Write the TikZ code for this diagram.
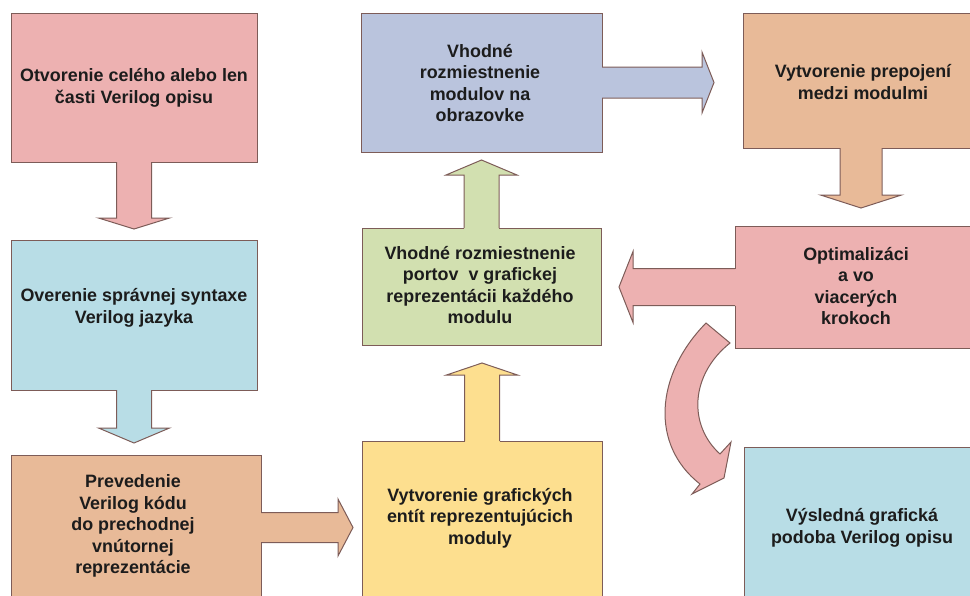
\documentclass[tikz,border=0pt]{standalone}
\usepackage{fontspec}
\setmainfont{Liberation Sans}
\definecolor{pinkc}{HTML}{EDB1B1}
\definecolor{bluec}{HTML}{B8DDE6}
\definecolor{tanc}{HTML}{E8BA98}
\definecolor{yellowc}{HTML}{FDDF8F}
\definecolor{greenc}{HTML}{D2E0B0}
\definecolor{lavc}{HTML}{BAC4DD}
\definecolor{edgec}{HTML}{7D5C58}
\definecolor{textc}{HTML}{1C1C1C}
\tikzset{
  edgeline/.style={draw=edgec, line width=1pt, line join=miter},
  boxnode/.style={rectangle, edgeline, inner sep=0pt, outer sep=0pt},
  txt/.style={font=\bfseries\fontsize{17.9}{21.5}\selectfont, align=center, text=textc, inner sep=0pt},
  pics/barrow/.style n args={5}{code={
    \fill[#5] (-2,-#2) rectangle (#1,#2);
    \fill[#5] (#1,-#3) -- ({#1+#4},0) -- (#1,#3) -- cycle;
    \draw[edgeline] (0,-#2) -- (#1,-#2) -- (#1,-#3) -- ({#1+#4},0) -- (#1,#3) -- (#1,#2) -- (0,#2);
  }}
}
\begin{document}
\begin{tikzpicture}[x=1pt, y=-1pt]
\useasboundingbox (0,0) rectangle (970,595);
\clip (0,0) rectangle (970,595);
% boxes
\node[boxnode, fill=pinkc, minimum width=246pt, minimum height=149pt] (b1) at (134,87.5) {};
\node[boxnode, fill=bluec, minimum width=246pt, minimum height=150pt] (b2) at (134,315) {};
\node[boxnode, fill=tanc, minimum width=250pt, minimum height=145pt] (b3) at (136,527.5) {};
\node[boxnode, fill=yellowc, minimum width=240pt, minimum height=159pt] (b4) at (482,520.5) {};
\node[boxnode, fill=greenc, minimum width=239pt, minimum height=117pt] (b5) at (481.5,286.5) {};
\node[boxnode, fill=lavc, minimum width=241pt, minimum height=139pt] (b6) at (481.5,82.5) {};
\node[boxnode, fill=tanc, minimum width=236pt, minimum height=135pt] (b7) at (861,80.5) {};
\node[boxnode, fill=pinkc, minimum width=250pt, minimum height=122pt] (b8) at (860,287) {};
\node[boxnode, fill=bluec, minimum width=241pt, minimum height=153pt] (b9) at (864.5,523.5) {};
% block arrows
\pic[rotate=-90] at (b1.south) {barrow={56}{17.5}{35.5}{11}{pinkc}};
\pic[rotate=-90] at (b2.south) {barrow={38}{17.5}{35.5}{15}{bluec}};
\pic at (b3.east) {barrow={77}{15}{28.5}{15}{tanc}};
\pic[rotate=90] at (b4.north) {barrow={66}{17.5}{35.5}{12}{yellowc}};
\pic[rotate=90] at (b5.north) {barrow={53}{17.5}{35.5}{15}{greenc}};
\pic at (b6.east) {barrow={100}{15.5}{30.5}{12}{lavc}};
\pic[rotate=-90] at (b7.south) {barrow={47}{21}{40.5}{13}{tanc}};
\pic[rotate=180] at (b8.west) {barrow={102}{18.5}{35.5}{14}{pinkc}};
% curved arrow from b8 to b9
\coordinate (cs1) at (706,323);
\coordinate (cs2) at (730,343);
\coordinate (ce1) at (700,484);
\coordinate (ce2) at (720,454);
\coordinate (cb1) at (692,494);
\coordinate (ctip) at (724,478);
\coordinate (cb2) at (731,442);
\filldraw[edgeline, fill=pinkc] (cs1) .. controls (655,375) and (650,445) .. (ce1)
  -- (cb1) -- (ctip) -- (cb2) -- (ce2)
  .. controls (688,425) and (690,375) .. (cs2) -- cycle;
% texts
\node[txt] (t1) at (134,88) {Otvorenie celého alebo len\\časti Verilog opisu};
\node[txt] (t2) at (134,308) {Overenie správnej syntaxe\\Verilog jazyka};
\node[txt] (t3) at (133,526) {Prevedenie\\Verilog kódu\\do prechodnej\\vnútornej\\reprezentácie};
\node[txt] (t4) at (480,518) {Vytvorenie grafických\\entít reprezentujúcich\\moduly};
\node[txt] (t5) at (480,285) {Vhodné rozmiestnenie\\portov \ v grafickej\\reprezentácii každého\\modulu};
\node[txt] (t6) at (480,83) {Vhodné\\rozmiestnenie\\modulov na\\obrazovke};
\node[txt] (t7) at (863,82) {Vytvorenie prepojení\\medzi modulmi};
\node[txt] (t8) at (856,286) {Optimalizáci\\a vo\\viacerých\\krokoch};
\node[txt] (t9) at (862,528) {Výsledná grafická\\podoba Verilog opisu};
\end{tikzpicture}
\end{document}
